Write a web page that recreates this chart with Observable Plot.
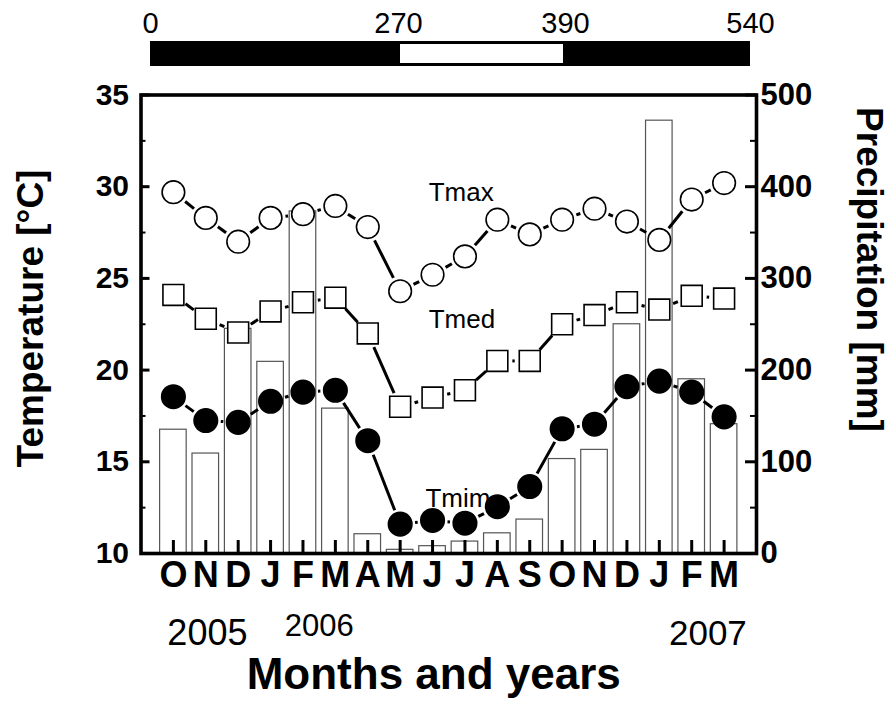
<!DOCTYPE html>
<html><head><meta charset="utf-8">
<script src="https://cdn.jsdelivr.net/npm/d3@7"></script>
<script src="https://cdn.jsdelivr.net/npm/@observablehq/plot@0.6"></script>
<style>
body{margin:0;background:#fff;}
#chart{width:893px;height:701px;overflow:hidden;background:#fff;}
#chart svg{display:block;}
</style></head><body><div id="chart"></div>
<script>
// ---- data ----
const months = ["O","N","D","J","F","M","A","M","J","J","A","S","O","N","D","J","F","M"];
const tmax = [29.7,28.3,27.0,28.3,28.5,28.95,27.8,24.3,25.2,26.2,28.2,27.4,28.2,28.8,28.1,27.1,29.3,30.2];
const tmed = [24.1,22.8,22.05,23.2,23.7,23.95,22.0,18.0,18.5,18.9,20.5,20.5,22.5,23.0,23.7,23.3,24.05,23.9];
const tmin = [18.55,17.25,17.15,18.3,18.8,18.9,16.15,11.6,11.8,11.65,12.55,13.65,16.8,17.05,19.1,19.4,18.8,17.45];
const precip = [135,109,245,209,373,158,21,4,8,13,22,37,103,113,250,472,190,141];
const years = ["2005","2006","2007"];
const yearAt = [1.05, 4.5, 16.5];
const tempTicks = [10,15,20,25,30,35];
const tempMinor = [12.5,17.5,22.5,27.5,32.5];
const precipTicks = [0,100,200,300,400,500];
const dayTicks = [0,270,390,540];
const wetSeason = [270,390];
const seriesNames = ["Tmax","Tmed","Tmim"];
const seriesLabelX = [7.88, 7.88, 7.78];
const seriesLabelY = [29.2, 22.27, 12.52];

// precipitation (mm) on the temperature axis: 0 mm -> 10 °C, 500 mm -> 35 °C
const mmToT = mm => 10 + mm * (35 - 10) / 500;

const font = "Liberation Sans, Arial, Helvetica, sans-serif";
const chart = document.getElementById("chart");

// ---- top bar ----
const topBar = Plot.plot({
  width: 893, height: 68, marginTop: 41, marginBottom: 2, marginLeft: 0, marginRight: 0,
  style: {fontFamily: font, background: "white", color: "black"},
  x: {type: "linear", domain: dayTicks, range: [150, 398, 565, 750], axis: null},
  marks: [
    Plot.rect([dayTicks], {x1: d => d[0], x2: d => d[d.length - 1], fill: "black"}),
    Plot.rect([wetSeason], {x1: d => d[0], x2: d => d[1], fill: "white", insetLeft: 2, insetRight: 2, insetTop: 3, insetBottom: 3}),
    Plot.text(dayTicks, {x: d => d, text: d => String(d), frameAnchor: "top", lineAnchor: "bottom", dy: -9, fontSize: 29, fill: "black"})
  ]
});
chart.appendChild(topBar);

// ---- main chart ----
const idx = arr => arr.map((v, i) => ({i, v}));
const segs = arr => arr.slice(1).map((v, k) => ({x1: k, y1: arr[k], x2: k + 1, y2: v}));
const segOpts = {x1: "x1", y1: "y1", x2: "x2", y2: "y2", headLength: 0, insetStart: 15, insetEnd: 15, strokeWidth: 3, stroke: "black", strokeLinecap: "butt"};
const FW = 756 - 140.5;   // frame width
const FH = 485 - 26.5;    // frame height

const main = Plot.plot({
  width: 893, height: 633,
  marginTop: 26.5, marginBottom: 148, marginLeft: 140.5, marginRight: 137,
  style: {fontFamily: font, background: "white", color: "black"},
  x: {type: "linear", domain: [-1, 18], axis: null},
  y: {domain: [10, 35], axis: null},
  marks: [
    // precipitation bars
    Plot.rect(idx(precip), {x1: d => d.i - 0.41, x2: d => d.i + 0.41, y1: () => mmToT(0), y2: d => mmToT(d.v), fill: "white", stroke: "#555", strokeWidth: 1.2}),
    // connecting lines with gaps near the symbols
    Plot.arrow(segs(tmax), segOpts),
    Plot.arrow(segs(tmed), segOpts),
    Plot.arrow(segs(tmin), segOpts),
    // series labels
    Plot.text(seriesNames, {x: (d, i) => seriesLabelX[i], y: (d, i) => seriesLabelY[i], text: d => d, textAnchor: "start", lineAnchor: "bottom", fontSize: 26, fill: "black"}),
    // symbols
    Plot.dot(idx(tmax), {x: "i", y: "v", r: 11.3, fill: "white", stroke: "black", strokeWidth: 1.6}),
    Plot.dot(idx(tmed), {x: "i", y: "v", symbol: "square", r: 11.8, fill: "white", stroke: "black", strokeWidth: 1.6}),
    Plot.dot(idx(tmin), {x: "i", y: "v", r: 11.8, fill: "black", stroke: "black"}),
    // ticks (inward)
    Plot.tickY(tempTicks, {y: d => d, insetRight: FW - 9, strokeWidth: 3}),
    Plot.tickY(tempMinor, {y: d => d, insetRight: FW - 5, strokeWidth: 2}),
    Plot.tickY(tempTicks, {y: d => d, insetLeft: FW - 11, strokeWidth: 3}),
    Plot.tickY(tempMinor, {y: d => d, insetLeft: FW - 6, strokeWidth: 2}),
    Plot.tickX(months, {x: (d, i) => i, insetTop: FH - 13, strokeWidth: 3}),
    Plot.frame({strokeWidth: 3.6, stroke: "black"}),
    // left tick labels
    Plot.text(tempTicks, {y: d => d, text: d => String(d), frameAnchor: "left", textAnchor: "end", dx: -12, fontSize: 30, fontWeight: "bold", fill: "black"}),
    // right tick labels (precipitation)
    Plot.text(precipTicks, {y: d => mmToT(d), text: d => String(d), frameAnchor: "right", textAnchor: "start", dx: 4, fontSize: 31, fontWeight: "bold", fill: "black"}),
    // month letters
    Plot.text(months, {x: (d, i) => i, text: d => d, frameAnchor: "bottom", lineAnchor: "bottom", dy: 33, fontSize: 36, fontWeight: "bold", fill: "black"}),
    // years
    Plot.text(years.slice(0, 1), {x: (d, i) => yearAt[0], text: d => d, frameAnchor: "bottom", lineAnchor: "bottom", dy: 91, fontSize: 36, fill: "black"}),
    Plot.text(years.slice(1, 2), {x: (d, i) => yearAt[1], text: d => d, frameAnchor: "bottom", lineAnchor: "bottom", dy: 82, fontSize: 31, fill: "black"}),
    Plot.text(years.slice(2, 3), {x: (d, i) => yearAt[2], text: d => d, frameAnchor: "bottom", lineAnchor: "bottom", dy: 91, fontSize: 35, fill: "black"}),
    // axis titles
    Plot.text(["Months and years"], {frameAnchor: "bottom", textAnchor: "middle", lineAnchor: "bottom", dx: -15, dy: 135, fontSize: 44, fontWeight: "bold", fill: "black"}),
    Plot.text(["Temperature [°C]"], {frameAnchor: "left", textAnchor: "middle", lineAnchor: "middle", rotate: -90, dx: -109.5, dy: -5.75, fontSize: 37, fontWeight: "bold", fill: "black"}),
    Plot.text(["Precipitation [mm]"], {frameAnchor: "right", textAnchor: "middle", lineAnchor: "middle", rotate: 90, dx: 112, dy: -54.75, fontSize: 37, fontWeight: "bold", fill: "black"})
  ]
});
chart.appendChild(main);
</script>
</body></html>
